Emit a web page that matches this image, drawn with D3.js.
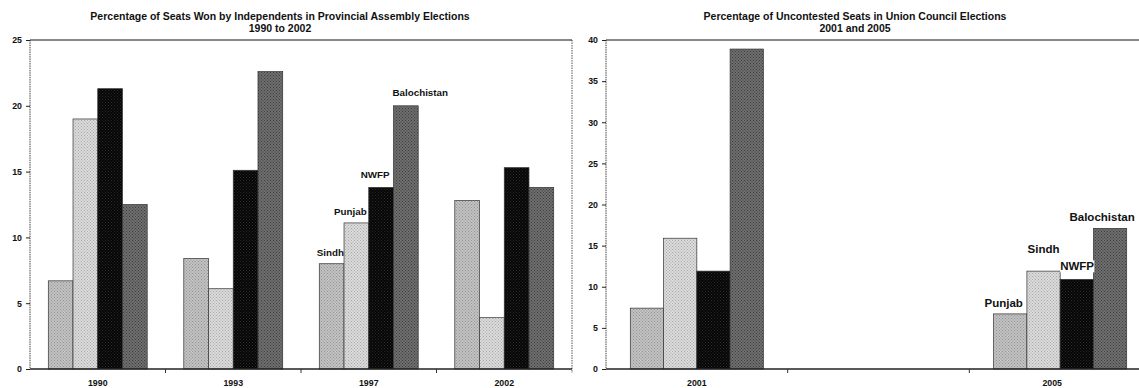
<!DOCTYPE html>
<html>
<head>
<meta charset="utf-8">
<script src="https://cdn.jsdelivr.net/npm/d3@7"></script>
<style>
html,body{margin:0;padding:0;background:#fff;}
svg{display:block;font-family:"Liberation Sans",Arial,sans-serif;}
</style>
</head>
<body>
<svg id="chart" width="1139" height="388"></svg>
<script>
// ---------- DATA ----------
const leftYears = ["1990", "1993", "1997", "2002"];
const leftSeries = ["Sindh", "Punjab", "NWFP", "Balochistan"];
const leftSindh = [6.7, 8.4, 8.0, 12.8];
const leftPunjab = [19.0, 6.1, 11.1, 3.9];
const leftNWFP = [21.3, 15.1, 13.8, 15.3];
const leftBalochistan = [12.5, 22.6, 20.0, 13.8];
const leftTicks = [0, 5, 10, 15, 20, 25];
const leftTitle = ["Percentage of Seats Won by Independents in Provincial Assembly Elections", "1990 to 2002"];
const leftLabelYear = "1997";

const rightYears = [2001, 2005];
const rightSeries = ["Punjab", "Sindh", "NWFP", "Balochistan"];
const rightPunjab = [7.4, 6.7];
const rightSindh = [15.9, 11.9];
const rightNWFP = [11.9, 10.9];
const rightBalochistan = [38.9, 17.1];
const rightTicks = [0, 5, 10, 15, 20, 25, 30, 35, 40];
const rightTitle = ["Percentage of Uncontested Seats in Union Council Elections", "2001 and 2005"];
const rightLabelYear = 2005;

// ---------- STYLE ----------
const svg = d3.select("#chart");
const defs = svg.append("defs");
const pats = [
  {id: "p0", base: "#c2c2c2", dot: "#949494"},
  {id: "p1", base: "#dadada", dot: "#aaaaaa"},
  {id: "p2", base: "#060606", dot: "#2a2a2a"},
  {id: "p3", base: "#6e6e6e", dot: "#3e3e3e"}
];
pats.forEach(p => {
  const pt = defs.append("pattern").attr("id", p.id).attr("patternUnits", "userSpaceOnUse")
    .attr("width", 3).attr("height", 3);
  pt.append("rect").attr("width", 3).attr("height", 3).attr("fill", p.base);
  pt.append("rect").attr("x", 0).attr("y", 0).attr("width", 1).attr("height", 1).attr("fill", p.dot);
  pt.append("rect").attr("x", 1.5).attr("y", 1.5).attr("width", 1).attr("height", 1).attr("fill", p.dot);
});
const fills = pats.map(p => `url(#${p.id})`);

const plotTop = 40, plotBottom = 369;

function drawTitle(lines, cx) {
  const t = svg.append("g").attr("font-weight", "bold").attr("font-size", 10.5)
    .attr("text-anchor", "middle").attr("fill", "#111");
  t.append("text").attr("x", cx).attr("y", 20).text(lines[0]);
  t.append("text").attr("x", cx).attr("y", 31.5).text(lines[1]);
}

function drawYAxis(y, x0, x1, ticks, rightBorder) {
  const g = svg.append("g");
  g.append("line").attr("x1", x0).attr("x2", x0).attr("y1", plotTop).attr("y2", plotBottom)
    .attr("stroke", "#444").attr("stroke-width", 1).attr("stroke-dasharray", "1.5,0.8");
  if (rightBorder) {
    g.append("line").attr("x1", x1).attr("x2", x1).attr("y1", plotTop).attr("y2", plotBottom + 4)
      .attr("stroke", "#555").attr("stroke-width", 1).attr("stroke-dasharray", "1.5,1");
  }
  g.append("line").attr("x1", x0).attr("x2", x1).attr("y1", y(ticks[ticks.length - 1]))
    .attr("y2", y(ticks[ticks.length - 1])).attr("stroke", "#111").attr("stroke-width", 1);
  const ax = d3.axisLeft(y).tickValues(ticks).tickSize(4).tickPadding(4);
  const a = g.append("g").attr("transform", `translate(${x0},0)`).call(ax);
  a.select(".domain").remove();
  a.selectAll("line").attr("stroke", "#222");
  a.selectAll("text").attr("font-size", 8.8).attr("font-weight", "bold").attr("fill", "#111")
    .attr("font-family", "Liberation Sans, Arial, sans-serif");
}

// ---------- LEFT CHART ----------
(function () {
  const x0 = 30, x1 = 572;
  const y = d3.scaleLinear().domain([0, 25]).range([plotBottom, plotTop]);
  const xb = d3.scaleBand().domain(leftYears).range([x0, x1]).padding(0);
  const step = xb.bandwidth();
  const xs = d3.scaleBand().domain(leftSeries).range([step * 0.135, step * 0.865]).padding(0);
  const vals = [leftSindh, leftPunjab, leftNWFP, leftBalochistan];

  drawTitle(leftTitle, 280);
  drawYAxis(y, x0, x1, leftTicks, true);

  const g = svg.append("g");
  leftSeries.forEach((s, si) => {
    g.selectAll(null).data(leftYears).enter().append("rect")
      .attr("x", d => xb(d) + xs(s))
      .attr("width", xs.bandwidth())
      .attr("y", (d, i) => y(vals[si][i]))
      .attr("height", (d, i) => y(0) - y(vals[si][i]))
      .attr("fill", fills[si]).attr("stroke", "#333").attr("stroke-width", 0.7);
  });

  // x axis
  svg.append("line").attr("x1", x0).attr("x2", x1).attr("y1", plotBottom).attr("y2", plotBottom)
    .attr("stroke", "#222").attr("stroke-width", 1.3);
  svg.append("g").selectAll("line").data(leftYears.slice(1)).enter().append("line")
    .attr("x1", d => xb(d)).attr("x2", d => xb(d)).attr("y1", plotBottom).attr("y2", plotBottom + 4)
    .attr("stroke", "#333");
  svg.append("g").selectAll("text").data(leftYears).enter().append("text")
    .attr("x", d => xb(d) + step / 2).attr("y", 386).attr("text-anchor", "middle")
    .attr("font-size", 8.8).attr("font-weight", "bold").attr("fill", "#111").text(d => d);

  // labels on 1997
  const li = leftYears.indexOf(leftLabelYear);
  const lab = svg.append("g").attr("font-size", 9.8).attr("font-weight", "bold").attr("fill", "#111");
  const off = [
    {anchor: "end", dx: 0, dy: -8},
    {anchor: "end", dx: -2, dy: -8},
    {anchor: "end", dx: -4, dy: -9},
    {anchor: "start", dx: -1, dy: -10}
  ];
  leftSeries.forEach((s, si) => {
    const bx = xb(leftLabelYear) + xs(s);
    const o = off[si];
    const ax = o.anchor === "end" ? bx + xs.bandwidth() + o.dx : bx + o.dx;
    lab.append("text").attr("x", ax).attr("y", y(vals[si][li]) + o.dy)
      .attr("text-anchor", o.anchor).text(s);
  });
})();

// ---------- RIGHT CHART ----------
(function () {
  const x0 = 606, xEnd = 1151;
  const y = d3.scaleLinear().domain([0, 40]).range([plotBottom, plotTop]);
  const x = d3.scaleLinear().domain([2000, 2006]).range([x0, xEnd]);
  const groupW = x(2000 + 1.465) - x(2000);
  const xs = d3.scaleBand().domain(rightSeries).range([-groupW / 2, groupW / 2]).padding(0);
  const vals = [rightPunjab, rightSindh, rightNWFP, rightBalochistan];

  drawTitle(rightTitle, 855);
  drawYAxis(y, x0, 1139, rightTicks, false);

  const g = svg.append("g");
  rightSeries.forEach((s, si) => {
    g.selectAll(null).data(rightYears).enter().append("rect")
      .attr("x", d => x(d) + xs(s))
      .attr("width", xs.bandwidth())
      .attr("y", (d, i) => y(vals[si][i]))
      .attr("height", (d, i) => y(0) - y(vals[si][i]))
      .attr("fill", fills[si]).attr("stroke", "#333").attr("stroke-width", 0.7);
  });

  svg.append("line").attr("x1", x0).attr("x2", 1139).attr("y1", plotBottom).attr("y2", plotBottom)
    .attr("stroke", "#222").attr("stroke-width", 1.3);
  svg.append("g").selectAll("line").data([2002, 2004]).enter().append("line")
    .attr("x1", d => x(d)).attr("x2", d => x(d)).attr("y1", plotBottom).attr("y2", plotBottom + 4)
    .attr("stroke", "#333");
  svg.append("g").selectAll("text").data(rightYears).enter().append("text")
    .attr("x", d => x(d) - (d === 2005 ? 8 : 0)).attr("y", 386).attr("text-anchor", "middle")
    .attr("font-size", 8.8).attr("font-weight", "bold").attr("fill", "#111").text(d => d);

  const li = rightYears.indexOf(rightLabelYear);
  const lab = svg.append("g").attr("font-size", 11.5).attr("font-weight", "bold").attr("fill", "#111");
  const off = [
    {anchor: "end", dx: -4, dy: -7},
    {anchor: "middle", dx: 0, dy: -18},
    {anchor: "start", dx: 0, dy: -9},
    {anchor: "middle", dx: -8, dy: -7.5}
  ];
  rightSeries.forEach((s, si) => {
    const bx = x(rightLabelYear) + xs(s);
    const o = off[si];
    let ax = bx + o.dx;
    if (o.anchor === "end") ax = bx + xs.bandwidth() + o.dx;
    if (o.anchor === "middle") ax = bx + xs.bandwidth() / 2 + o.dx;
    const t = lab.append("text").attr("x", ax).attr("y", y(vals[si][li]) + o.dy)
      .attr("text-anchor", o.anchor).text(s);
    if (s === "NWFP") {
      const bb = t.node().getBBox();
      lab.insert("rect", "text").attr("x", bb.x).attr("y", bb.y).attr("width", bb.width)
        .attr("height", bb.height).attr("fill", "#fff");
    }
  });
})();
</script>
</body>
</html>
